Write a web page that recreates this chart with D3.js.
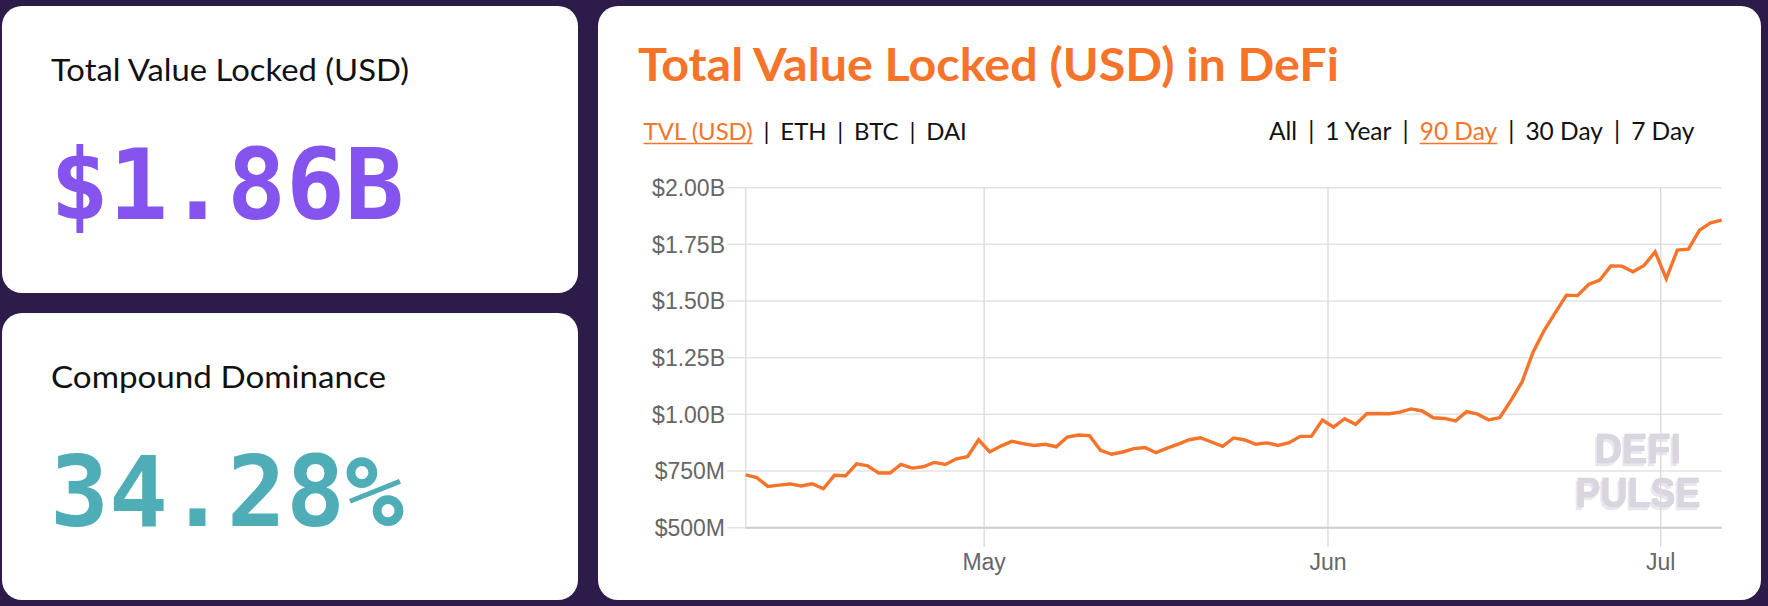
<!DOCTYPE html>
<html>
<head>
<meta charset="utf-8">
<script src="https://cdn.jsdelivr.net/npm/d3@7"></script>
<style>
  html, body { margin: 0; padding: 0; background: #2d1b4a; }
  svg { display: block; }
</style>
</head>
<body>
<svg id="chart" width="1768" height="606"></svg>
<script>
// TVL (USD) in DeFi, vista 90 días — un punto diario desde el 9 de abril
const START = new Date(2020, 3, 9, 12);
const TVL_M = [
  733, 721, 682, 688, 693, 684, 694, 672, 731, 729,
  782, 773, 741, 741, 779, 763, 769, 788, 779, 804,
  813, 888, 834, 860, 881, 871, 863, 868, 857, 900,
  909, 906, 841, 824, 834, 849, 854, 831, 851, 869,
  888, 897, 878, 859, 896, 887, 868, 874, 863, 875,
  903, 903, 975, 944, 981, 956, 1003, 1004, 1003, 1010,
  1024, 1015, 985, 982, 971, 1012, 1001, 975, 986, 1062,
  1143, 1275, 1371, 1449, 1526, 1524, 1573, 1592, 1655, 1654,
  1629, 1657, 1717, 1599, 1725, 1729, 1813, 1845, 1857
];
const DATES = TVL_M.map((_, i) => d3.timeDay.offset(START, i));
const Y_TICKS = [500, 750, 1000, 1250, 1500, 1750, 2000];
const X_TICKS = [new Date(2020, 4, 1), new Date(2020, 5, 1), new Date(2020, 6, 1)];
const X_LABELS = ['May', 'Jun', 'Jul'];

const STAT_TITLES = ['Total Value Locked (USD)', 'Compound Dominance'];
const STAT_VALUES = ['$1.86B', '34.28%'];
const STAT_COLORS = ['#8553ee', '#4eadb6'];

const LINKS_LEFT = ['TVL (USD)', 'ETH', 'BTC', 'DAI'];
const LINKS_RIGHT = ['All', '1 Year', '90 Day', '30 Day', '7 Day'];
const ACTIVE_LEFT = 'TVL (USD)', ACTIVE_RIGHT = '90 Day';

const ORANGE = '#f6732a';
const SANS = 'Lato, "Open Sans", sans-serif';
const AX = '"Liberation Sans", Arial, sans-serif';

const svg = d3.select('#chart');
svg.append('rect').attr('width', 1768).attr('height', 606).attr('fill', '#2d1b4a');

// relieve de la marca de agua (copia desplazada vía filtro, un solo texto)
const flt = svg.append('defs').append('filter').attr('id', 'wm3d')
  .attr('x', '-10%').attr('y', '-10%').attr('width', '120%').attr('height', '130%');
flt.append('feOffset').attr('in', 'SourceAlpha').attr('dx', -2.5).attr('dy', 2.5).attr('result', 'off');
flt.append('feFlood').attr('flood-color', '#e9e7ee').attr('result', 'col');
flt.append('feComposite').attr('in', 'col').attr('in2', 'off').attr('operator', 'in').attr('result', 'sh');
const fm = flt.append('feMerge');
fm.append('feMergeNode').attr('in', 'sh');
fm.append('feMergeNode').attr('in', 'SourceGraphic');

// tarjetas
[[2, 6, 576, 287], [2, 313, 576, 287], [598, 6, 1163, 594]].forEach(([x, y, w, h]) => {
  svg.append('rect').attr('x', x).attr('y', y).attr('width', w).attr('height', h)
    .attr('rx', 20).attr('fill', '#fff');
});

// estadísticas de la izquierda
STAT_TITLES.forEach((t, i) => {
  const y0 = i * 307;
  svg.append('text').text(t)
    .attr('x', 51).attr('y', y0 + 80.5)
    .attr('font-family', SANS).style('font-size', '30px').attr('fill', '#111')
    .attr('textLength', i === 0 ? 358 : 335).attr('lengthAdjust', 'spacingAndGlyphs');
  svg.append('text').text(STAT_VALUES[i])
    .attr('x', 50).attr('y', y0 + 218.5)
    .attr('font-family', '"DejaVu Sans Mono", monospace').attr('font-weight', 700)
    .style('font-size', '98px')
    .attr('fill', STAT_COLORS[i]);
});

// título
svg.append('text').text('Total Value Locked (USD) in DeFi')
  .attr('x', 638).attr('y', 80.7)
  .attr('font-family', SANS).attr('font-weight', 700).style('font-size', '45px')
  .attr('fill', ORANGE).attr('textLength', 701).attr('lengthAdjust', 'spacingAndGlyphs');

// fila de enlaces: se ajusta el tamaño para que ocupe el ancho del original
function linkRow(items, active, x0, x1, baseline) {
  const g = svg.append('g');
  function layout(fs) {
    g.selectAll('*').remove();
    let x = x0;
    items.forEach((it, i) => {
      if (i > 0) {
        const sep = g.append('text').text('|').attr('x', x + fs * 0.45).attr('y', baseline)
          .attr('font-family', SANS).style('font-size', fs + 'px').attr('fill', '#111');
        x += fs * 0.45 + sep.node().getComputedTextLength() + fs * 0.45;
      }
      const on = it === active;
      const t = g.append('text').text(it).attr('x', x).attr('y', baseline)
        .attr('font-family', SANS).style('font-size', fs + 'px').attr('fill', on ? ORANGE : '#111');
      const w = t.node().getComputedTextLength();
      if (on) g.append('line').attr('x1', x).attr('x2', x + w)
        .attr('y1', baseline + 3.5).attr('y2', baseline + 3.5)
        .attr('stroke', ORANGE).attr('stroke-width', 1.6);
      x += w;
    });
    return x - x0;
  }
  const w = layout(22);
  layout(22 * (x1 - x0) / w);
}
linkRow(LINKS_LEFT, ACTIVE_LEFT, 643.6, 967, 140);
linkRow(LINKS_RIGHT, ACTIVE_RIGHT, 1269, 1694.5, 140);

// gráfico
const PL = 745.7, PR = 1721.7, PT = 187.7, PB = 527.7;
const x = d3.scaleTime().domain([DATES[0], DATES[DATES.length - 1]]).range([PL, PR]);
const y = d3.scaleLinear().domain([500, 2000]).range([PB, PT]);
const fmtY = v => v >= 1000 ? '$' + (v / 1000).toFixed(2) + 'B' : '$' + v + 'M';

// marca de agua
const wm = svg.append('g').attr('filter', 'url(#wm3d)');
[['DEFI', 463, 86], ['PULSE', 506.7, 125]].forEach(([s, by, len]) => {
  wm.append('text').text(s).attr('x', 1638).attr('y', by)
    .attr('text-anchor', 'middle').attr('font-family', AX).attr('font-weight', 700)
    .style('font-size', '43px').attr('fill', '#d9d6df')
    .attr('stroke', '#d2cfd9').attr('stroke-width', 0.6)
    .attr('textLength', len).attr('lengthAdjust', 'spacingAndGlyphs');
});

// rejilla horizontal + etiquetas Y
const gy = svg.append('g');
gy.selectAll('line').data(Y_TICKS).join('line')
  .attr('x1', 727).attr('x2', PR).attr('y1', d => y(d)).attr('y2', d => y(d))
  .attr('stroke', '#e3e3e3').attr('stroke-width', 1.5);
gy.selectAll('text').data(Y_TICKS).join('text')
  .text(fmtY)
  .attr('x', 725).attr('y', d => y(d)).attr('dy', '0.36em')
  .attr('text-anchor', 'end').attr('font-family', AX).style('font-size', '23px')
  .attr('fill', '#666');

// rejilla vertical + meses
const gx = svg.append('g');
gx.selectAll('line').data(X_TICKS).join('line')
  .attr('x1', d => x(d)).attr('x2', d => x(d)).attr('y1', PT).attr('y2', 547)
  .attr('stroke', '#dbd9de').attr('stroke-width', 1.4);
gx.selectAll('text').data(X_TICKS).join('text')
  .text((d, i) => X_LABELS[i])
  .attr('x', d => x(d)).attr('y', 570)
  .attr('text-anchor', 'middle').attr('font-family', AX).style('font-size', '23px')
  .attr('fill', '#666');

// ejes
svg.append('line').attr('x1', PL).attr('x2', PL).attr('y1', PT).attr('y2', PB)
  .attr('stroke', '#e0e0e0').attr('stroke-width', 1.5);
svg.append('line').attr('x1', PL).attr('x2', PR).attr('y1', PB).attr('y2', PB)
  .attr('stroke', '#cdcdcd').attr('stroke-width', 2);

// serie
const line = d3.line().x((d, i) => x(DATES[i])).y(d => y(d));
svg.append('path').datum(TVL_M)
  .attr('d', line)
  .attr('fill', 'none').attr('stroke', ORANGE).attr('stroke-width', 3.4)
  .attr('stroke-linejoin', 'miter');
</script>
</body>
</html>
